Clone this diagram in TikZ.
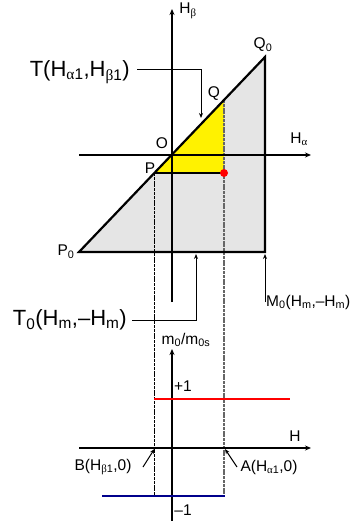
\documentclass[tikz,border=0pt]{standalone}
\usepackage{fontspec}
\setmainfont{Liberation Sans}
\newfontfamily\grk{Liberation Serif}
\usetikzlibrary{arrows.meta}
\newcommand\sbs[1]{\textsubscript{#1}}
\newcommand\ga{{\grk α}}
\newcommand\gb{{\grk β}}
\begin{document}
\begin{tikzpicture}[x=1pt,y=-1pt,
  axis/.style={line width=1.8pt,-{Stealth[length=6pt,width=5pt]}},
  thk/.style={line width=2.2pt,line join=miter},
  lead/.style={line width=1pt,-{Stealth[length=5pt,width=4pt]}},
  guide/.style={line width=1.1pt,dash pattern=on 3pt off 0.8pt},
  big/.style={font=\fontsize{22}{26}\selectfont,inner sep=0pt},
  sml/.style={font=\fontsize{15.5}{18}\selectfont,inner sep=0pt}]
\useasboundingbox (0,0) rectangle (352,521);
% points
\coordinate (P0) at (79,252);
\coordinate (Q0) at (265,57);
\coordinate (M0c) at (265,252);
\coordinate (O) at (172,155);
\coordinate (P) at (154.4,173);
\coordinate (Q) at (224,100);
\coordinate (R) at (224,173);
% fills
\fill[gray!20] (P0) -- (Q0) -- (M0c) -- cycle;
\fill[yellow] (P) -- (Q) -- (R) -- cycle;
% guide lines
\coordinate (Pb) at (154.4,496);
\coordinate (Rb) at (224,496);
\draw[guide,black] (P) -- (Pb);
\draw[guide,black!60] (Q) -- (Rb);
% upper axes
\coordinate (hal) at (79,155);
\coordinate (har) at (311,155);
\coordinate (hbb) at (172,302);
\coordinate (hbt) at (172,9);
\draw[axis] (hal) -- (har);
\draw[axis] (hbb) -- (hbt);
% triangle lines
\draw[thk] (P0) -- (Q0) -- (M0c) -- cycle;
\draw[line width=2pt] (P) -- (R);
\fill[red] (R) circle (4);
% labels upper
\node[sml] (lhb) at (188,11) {H\sbs{\gb}};
\node[sml] (lha) at (299,139) {H\sbs{\ga}};
\node[sml] (lq0) at (263,45) {Q\sbs{0}};
\node[sml] (lq) at (214,94) {Q};
\node[sml] (lo) at (162,143) {O};
\node[sml] (lp) at (150,168) {P};
\node[sml] (lp0) at (66,252) {P\sbs{0}};
% T leader
\node[big,anchor=east] (lt) at (130,72) {T(H\sbs{\ga1},H\sbs{\gb1})};
\coordinate (t1) at (137,70);
\coordinate (t2) at (201,118);
\draw[lead] (t1) -| (t2);
% T0 leader
\node[big,anchor=east] (lt0) at (127,320) {T\sbs{0}(H\sbs{m},–H\sbs{m})};
\coordinate (u1) at (132,320);
\coordinate (u2) at (196,254);
\draw[lead] (u1) -| (u2);
% M0 leader
\node[sml,anchor=west] (lm0) at (266,302) {M\sbs{0}(H\sbs{m},–H\sbs{m})};
\coordinate (m1) at (265,302);
\coordinate (m2) at (265,254);
\draw[lead] (m1) -- (m2);
% lower axes
\coordinate (hl) at (79,448);
\coordinate (hr) at (311,448);
\coordinate (mb) at (172,521);
\coordinate (mt) at (172,349);
\draw[axis] (hl) -- (hr);
\draw[axis] (mb) -- (mt);
\node[sml] (lm) at (186,340) {m\sbs{0}/m\sbs{0s}};
\node[sml] (lh) at (295,436) {H};
\node[sml] (lp1) at (183,386) {+1};
\node[sml] (lm1) at (183,510) {–1};
% red and blue
\coordinate (r1) at (154,399);
\coordinate (r2) at (290,399);
\draw[red,line width=2.8pt] (r1) -- (r2);
\coordinate (b1) at (102,496);
\coordinate (b2) at (225,496);
\draw[blue!55!black,line width=2.8pt] (b1) -- (b2);
% B, A leaders
\node[sml] (lb) at (103,467) {B(H\sbs{\gb1},0)};
\coordinate (bb1) at (143,467);
\coordinate (bb2) at (154.4,449);
\draw[lead] (bb1) -- (bb2);
\node[sml] (la) at (269,467) {A(H\sbs{\ga1},0)};
\coordinate (aa1) at (237,467);
\coordinate (aa2) at (225,449);
\draw[lead] (aa1) -- (aa2);
\end{tikzpicture}
\end{document}
